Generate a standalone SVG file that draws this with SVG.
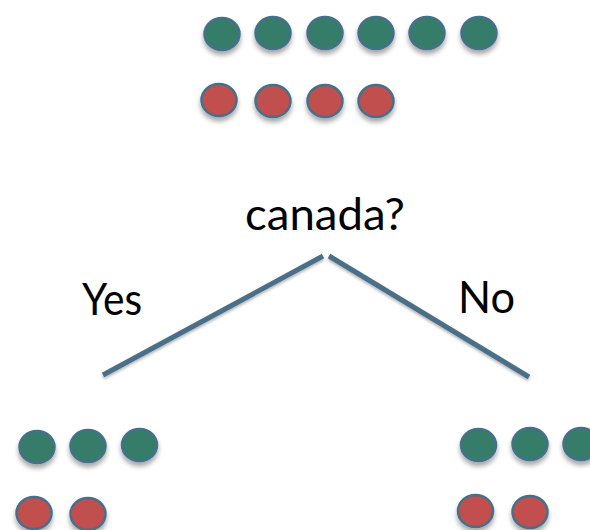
<svg xmlns="http://www.w3.org/2000/svg" width="590" height="530" viewBox="0 0 590 530">
<defs>
<filter id="sh" x="-40%" y="-40%" width="180%" height="200%">
<feGaussianBlur in="SourceAlpha" stdDeviation="2.5"/>
<feOffset dx="0" dy="4" result="b"/>
<feComponentTransfer><feFuncA type="linear" slope="0.35"/></feComponentTransfer>
<feMerge><feMergeNode/><feMergeNode in="SourceGraphic"/></feMerge>
</filter>
<filter id="lsh" x="-10%" y="-10%" width="120%" height="130%">
<feGaussianBlur in="SourceAlpha" stdDeviation="1.5"/>
<feOffset dx="0" dy="2" result="b"/>
<feComponentTransfer><feFuncA type="linear" slope="0.3"/></feComponentTransfer>
<feMerge><feMergeNode/><feMergeNode in="SourceGraphic"/></feMerge>
</filter>
</defs>
<style>
.g{fill:#367D69;stroke:#45708C;stroke-width:2.5;filter:url(#sh)}
.r{fill:#C0504D;stroke:#45708C;stroke-width:2.5;filter:url(#sh)}
.t{font-family:Lato,"Liberation Sans",Arial,sans-serif;font-size:44px;fill:#000}
.c{fill:none;stroke:#4A6F88;stroke-width:5;filter:url(#lsh)}
</style>
<rect width="590" height="530" fill="#fff"/>
<g id="connectors">
<line class="c" x1="103" y1="375" x2="323" y2="256"/>
<line class="c" x1="329" y1="256" x2="529" y2="377"/>
</g>
<g id="root">
<ellipse class="g" cx="222" cy="34" rx="17.5" ry="16"/>
<ellipse class="g" cx="273" cy="33" rx="17.5" ry="16"/>
<ellipse class="g" cx="325" cy="33" rx="17.5" ry="16"/>
<ellipse class="g" cx="376" cy="33" rx="17.5" ry="16"/>
<ellipse class="g" cx="427" cy="33" rx="17.5" ry="16"/>
<ellipse class="g" cx="479" cy="33" rx="17.5" ry="16"/>
<ellipse class="r" cx="219" cy="100" rx="17.5" ry="16"/>
<ellipse class="r" cx="273" cy="101" rx="17.5" ry="16"/>
<ellipse class="r" cx="325" cy="101" rx="17.5" ry="16"/>
<ellipse class="r" cx="376" cy="101" rx="17.5" ry="16"/>
</g>
<g id="question">
<text class="t" x="245" y="230" textLength="160" lengthAdjust="spacingAndGlyphs">canada?</text>
</g>
<g id="yes-label">
<text class="t" x="82" y="315" textLength="60" lengthAdjust="spacingAndGlyphs">Yes</text>
</g>
<g id="no-label">
<text class="t" x="458" y="313" textLength="57" lengthAdjust="spacingAndGlyphs">No</text>
</g>
<g id="yes-node">
<ellipse class="g" cx="37" cy="447" rx="17.5" ry="16"/>
<ellipse class="g" cx="88" cy="446" rx="17.5" ry="16"/>
<ellipse class="g" cx="139.5" cy="445" rx="17.5" ry="16"/>
<ellipse class="r" cx="34" cy="513" rx="17.5" ry="16"/>
<ellipse class="r" cx="88" cy="514" rx="17.5" ry="16"/>
</g>
<g id="no-node">
<ellipse class="g" cx="478.5" cy="445" rx="17.5" ry="16"/>
<ellipse class="g" cx="530" cy="444" rx="17.5" ry="16"/>
<ellipse class="g" cx="581" cy="444" rx="17.5" ry="16"/>
<ellipse class="r" cx="475.5" cy="511" rx="17.5" ry="16"/>
<ellipse class="r" cx="530" cy="512" rx="17.5" ry="16"/>
</g>
</svg>
